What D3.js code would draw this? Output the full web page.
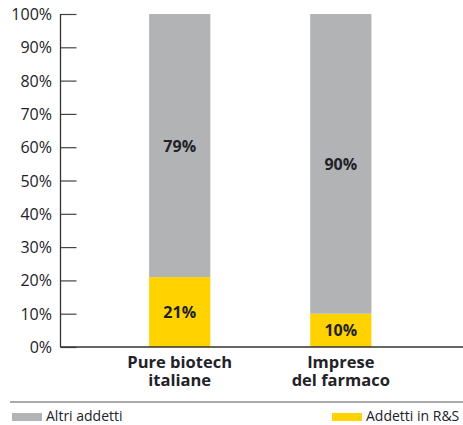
<!DOCTYPE html>
<html>
<head>
<meta charset="utf-8">
<script src="https://cdn.jsdelivr.net/npm/d3@7"></script>
<style>
  html, body { margin: 0; padding: 0; background: #fff; }
  svg { display: block; font-family: "Open Sans", "Noto Sans", sans-serif; }
</style>
</head>
<body>
<svg id="chart" width="463" height="425"></svg>
<script>
// Share of employees: R&S staff vs other staff
const categories = [["Pure biotech", "italiane"], ["Imprese", "del farmaco"]];
const rdShare = [21, 10];
const otherShare = [79, 90];
const yTicks = [0, 10, 20, 30, 40, 50, 60, 70, 80, 90, 100];
const seriesNames = ["Altri addetti", "Addetti in R&S"];
const colors = { other: "#b2b3b5", rd: "#ffd200", text: "#222228" };

const svg = d3.select("#chart");
const x0 = 60.5, plotRight = 463, yTop = 14, yBottom = 347;

const y = d3.scaleLinear().domain([0, 100]).range([yBottom, yTop]);
const x = d3.scaleBand()
  .domain(d3.range(categories.length))
  .range([x0, 460])
  .paddingInner(0.62)
  .paddingOuter(0.55);

// y axis: line on the left, ticks pointing into the plot
const yAxis = d3.axisRight(y).tickValues(yTicks).tickSize(16).tickFormat("");
const gy = svg.append("g").attr("transform", `translate(${x0},0)`).call(yAxis);
gy.select(".domain").remove();
gy.selectAll(".tick line").attr("stroke", "#444").attr("stroke-width", 1.2);
svg.append("line").attr("x1", x0).attr("x2", x0).attr("y1", yTop).attr("y2", yBottom)
  .attr("stroke", "#333").attr("stroke-width", 1.3);

svg.append("g").selectAll("text").data(yTicks).join("text")
  .attr("x", 52).attr("y", d => y(d) + 6)
  .attr("text-anchor", "end")
  .attr("font-size", 16)
  .attr("fill", colors.text)
  .text(d => d + "%");

// stacked bars
const stacks = categories.map((c, i) => ({ i, rd: rdShare[i], other: otherShare[i] }));
const g = svg.append("g");
g.selectAll("rect.rd").data(stacks).join("rect").attr("class", "rd")
  .attr("x", d => x(d.i)).attr("width", x.bandwidth())
  .attr("y", d => y(d.rd)).attr("height", d => y(0) - y(d.rd))
  .attr("fill", colors.rd);
g.selectAll("rect.other").data(stacks).join("rect").attr("class", "other")
  .attr("x", d => x(d.i)).attr("width", x.bandwidth())
  .attr("y", d => y(d.rd + d.other)).attr("height", d => y(d.rd) - y(d.rd + d.other))
  .attr("fill", colors.other);

// value labels centred in each segment
const labels = [];
stacks.forEach(d => {
  labels.push({ cx: x(d.i) + x.bandwidth() / 2, cy: (y(0) + y(d.rd)) / 2, v: d.rd });
  labels.push({ cx: x(d.i) + x.bandwidth() / 2, cy: (y(d.rd) + y(d.rd + d.other)) / 2, v: d.other });
});
g.selectAll("text.val").data(labels).join("text").attr("class", "val")
  .attr("x", d => d.cx).attr("y", d => d.cy + 6)
  .attr("text-anchor", "middle")
  .attr("font-size", 16).attr("font-weight", "bold")
  .attr("fill", colors.text)
  .text(d => d.v + "%");

// baseline
svg.append("line").attr("x1", x0).attr("x2", plotRight).attr("y1", yBottom).attr("y2", yBottom)
  .attr("stroke", "#333").attr("stroke-width", 1.3);

// category labels, two lines each
svg.append("g").selectAll("g").data(categories).join("g")
  .each(function(d, i) {
    d3.select(this).selectAll("text").data(d).join("text")
      .attr("x", x(i) + x.bandwidth() / 2)
      .attr("y", (line, k) => 368 + k * 18)
      .attr("text-anchor", "middle")
      .attr("font-size", 16.5).attr("font-weight", "bold")
      .attr("fill", colors.text)
      .text(line => line);
  });

// separator above legend
svg.append("line").attr("x1", 10).attr("x2", plotRight).attr("y1", 402).attr("y2", 402)
  .attr("stroke", "#8c8c8c").attr("stroke-width", 1.5);

// legend
const legend = [
  { name: seriesNames[0], color: colors.other, x: 12 },
  { name: seriesNames[1], color: colors.rd, x: 332 }
];
const lg = svg.append("g").selectAll("g").data(legend).join("g")
  .attr("transform", d => `translate(${d.x},0)`);
lg.append("rect").attr("x", 0).attr("y", 413).attr("width", 30).attr("height", 8).attr("fill", d => d.color);
lg.append("text").attr("x", 34).attr("y", 421)
  .attr("font-size", 14).attr("fill", colors.text)
  .text(d => d.name);
</script>
</body>
</html>
